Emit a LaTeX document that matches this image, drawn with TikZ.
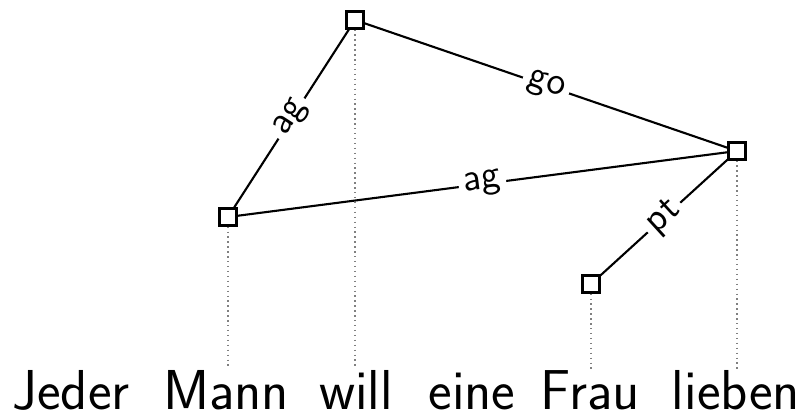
\documentclass[tikz,border=0pt]{standalone}
\usepackage{fontspec}
\usepackage{tikz}
\newfontfamily\wortfont{lmsans17-regular.otf}
\tikzset{
  gbox/.style={draw, rectangle, minimum size=0.17cm, inner sep=0pt, fill=white, semithick},
  wort/.style={font=\fontsize{16}{18}\selectfont\wortfont, inner sep=0pt, anchor=base},
  rel/.style={font=\fontsize{11}{12}\selectfont\sffamily, sloped, fill=white, inner sep=1.5pt},
  proj/.style={gray, densely dotted, thin}
}

\begin{document}
\begin{tikzpicture}[x=0.01cm, y=-0.01cm]
  \useasboundingbox (0,0) rectangle (806,414);
  % the sentence
  \node[wort] (jeder)  at (71,409)  {Jeder};
  \node[wort] (mann)   at (226,409) {Mann};
  \node[wort] (will)   at (356,409) {will};
  \node[wort] (eine)   at (472,409) {eine};
  \node[wort] (frau)   at (590,409) {Frau};
  \node[wort] (lieben) at (736,409) {lieben};
  % graph nodes
  \node[gbox] (m) at (228,217) {};
  \node[gbox] (w) at (355,20)  {};
  \node[gbox] (f) at (591,284) {};
  \node[gbox] (l) at (737,151) {};
  % projections
  \draw[proj] (m) -- (m |- mann.north);
  \draw[proj] (w) -- (w |- mann.north);
  \draw[proj] (f) -- (f |- mann.north);
  \draw[proj] (l) -- (l |- mann.north);
  % edges
  \draw[semithick] (m) -- node[rel] {ag} (w);
  \draw[semithick] (w) -- node[rel] {go} (l);
  \draw[semithick] (m) -- node[rel] {ag} (l);
  \draw[semithick] (f) -- node[rel] {pt} (l);
\end{tikzpicture}
\end{document}
